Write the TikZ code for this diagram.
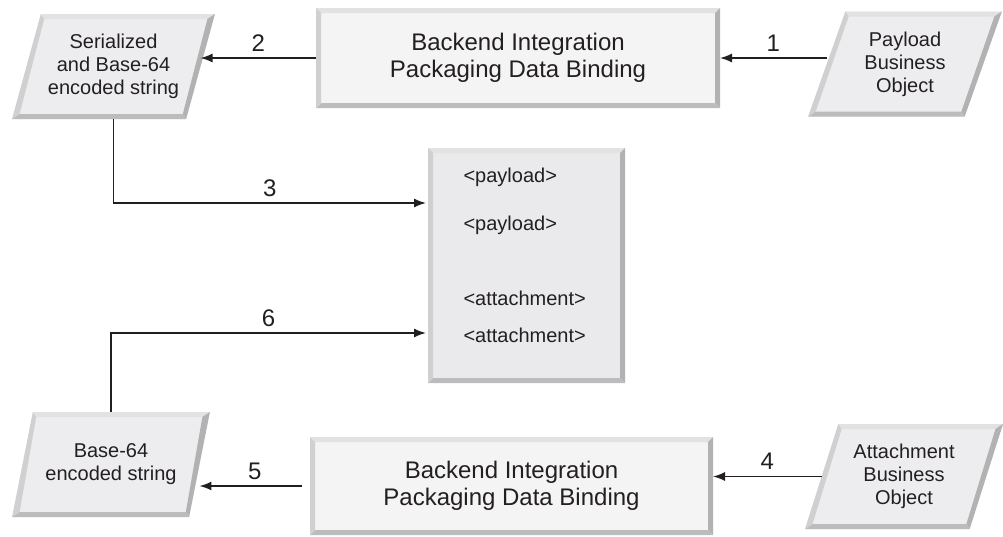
\documentclass[tikz,border=0pt]{standalone}
\usepackage{fontspec}
\setmainfont{Liberation Sans}
\usetikzlibrary{calc, arrows.meta, shapes.geometric}

\definecolor{boxfill}{HTML}{F4F4F4}
\definecolor{parafill}{HTML}{EDEDEF}
\definecolor{midfill}{HTML}{EAEAEC}
\definecolor{bvtop}{HTML}{E2E2E2}
\definecolor{bvleft}{HTML}{D0D0D0}
\definecolor{bvbottom}{HTML}{BCBCBC}
\definecolor{bvright}{HTML}{B2B2B2}
\definecolor{ink}{HTML}{231F20}

\tikzset{
  procbox/.style={rectangle, fill=boxfill, outer sep=0pt, align=center, text=ink,
    font=\fontsize{24}{27}\selectfont},
  iobox/.style={trapezium, trapezium left angle=69, trapezium right angle=111,
    trapezium stretches=true, fill=parafill, outer sep=0pt, align=center, text=ink,
    font=\fontsize{20}{23}\selectfont, minimum height=105},
  msgbox/.style={rectangle, fill=midfill, outer sep=0pt},
  tag/.style={anchor=base west, text=ink, font=\fontsize{20}{23}\selectfont},
  num/.style={above, text=ink, inner sep=6pt, font=\fontsize{24}{26}\selectfont},
  flow/.style={->, line width=1.5pt, draw=ink}
}

% outer TL TR BR BL, then inner TL TR BR BL
\newcommand{\bevelquad}[8]{%
  \fill[bvtop]    (#1) -- (#2) -- (#6) -- (#5) -- cycle;
  \fill[bvright]  (#2) -- (#3) -- (#7) -- (#6) -- cycle;
  \fill[bvbottom] (#3) -- (#4) -- (#8) -- (#7) -- cycle;
  \fill[bvleft]   (#4) -- (#1) -- (#5) -- (#8) -- cycle;
}
\newcommand{\bevelbox}[1]{\bevelquad{#1.north west}{#1.north east}{#1.south east}{#1.south west}%
  {$(#1.north west)+(5,5)$}{$(#1.north east)+(-5,5)$}{$(#1.south east)+(-5,-5)$}{$(#1.south west)+(5,-5)$}}
\newcommand{\bevelpara}[1]{\bevelquad{#1.top left corner}{#1.top right corner}{#1.bottom right corner}{#1.bottom left corner}%
  {$(#1.top left corner)+(3.3,5)$}{$(#1.top right corner)+(-7.5,5)$}{$(#1.bottom right corner)+(-3.3,-5)$}{$(#1.bottom left corner)+(7.5,-5)$}}

\begin{document}
\begin{tikzpicture}[x=1pt, y=-1pt, >={Latex[length=12pt,width=9pt]}]
\useasboundingbox (0,0) rectangle (1003,536);

% packaging boxes
\node[procbox, minimum width=404, minimum height=100] (packtop) at (518,58) {Backend Integration\\Packaging Data Binding};
\node[procbox, minimum width=403, minimum height=98] (packbot) at (511.5,486) {Backend Integration\\Packaging Data Binding};
\node[msgbox, minimum width=197, minimum height=235] (msg) at (526.5,265.5) {};

% data objects
\node[iobox, minimum width=203] (serial) at (113.5,66.5) {Serialized\\and Base-64\\encoded string};
\node[iobox, minimum width=194] (paybo) at (905,64) {Payload\\Business\\Object};
\node[iobox, minimum width=198] (b64) at (111,464.5) {Base-64\\encoded string};
\node[iobox, minimum width=198] (attbo) at (904,476.5) {Attachment\\Business\\Object};

\bevelbox{packtop}
\bevelbox{packbot}
\bevelbox{msg}
\bevelpara{serial}
\bevelpara{paybo}
\bevelpara{b64}
\bevelpara{attbo}

% message parts
\node[tag] (pl1) at (460,182) {<payload>};
\node[tag] (pl2) at (460,230) {<payload>};
\node[tag] (at1) at (460,305) {<attachment>};
\node[tag] (at2) at (460,342) {<attachment>};

\coordinate (in3) at ($(msg.north west)+(-2,55)$);
\coordinate (in6) at ($(msg.north west)+(-2,185)$);

\draw[flow] (paybo.west |- packtop.east) -- (packtop.east) node[num, midway] {1};
\draw[flow] (packtop.west) -- (packtop.west -| serial.east) node[num, midway] {2};
\draw[flow] (serial.center |- serial.bottom left corner) |- (in3) node[num, pos=0.75] {3};
\draw[flow] (attbo.west) -- (attbo.west -| packbot.east) node[num, midway] {4};
\draw[flow, shorten <=8pt] (packbot.west) -- (packbot.west -| b64.east) node[num, midway] {5};
\draw[flow] (b64.center |- b64.top left corner) |- (in6) node[num, pos=0.75] {6};
\end{tikzpicture}
\end{document}
